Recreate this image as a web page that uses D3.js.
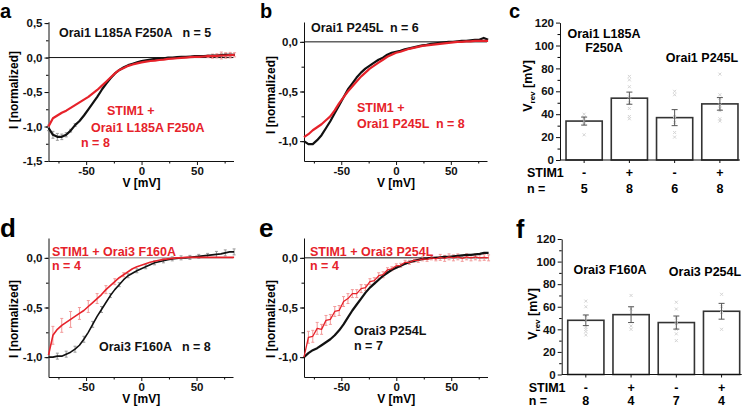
<!DOCTYPE html>
<html><head><meta charset="utf-8">
<script src="https://cdn.jsdelivr.net/npm/d3@7"></script>
<style>
body{margin:0;background:#fff}
svg{display:block}
text{font-family:"Liberation Sans",Arial,sans-serif;font-weight:bold}
.letter{font-family:"Liberation Sans",Arial,sans-serif;font-weight:700}
</style>
</head><body>
<svg id="fig" width="745" height="408"></svg>
<script>
// ---------- DATA ----------
const voltage = [-84,-80,-76,-72,-68,-64,-60,-56,-52,-48,-44,-40,-36,-32,-28,-24,-20,-16,-12,-8,-4,0,4,8,12,16,20,24,28,32,36,40,44,48,52,56,60,64,68,72,76,80,84];

// panel a
const aOrai = [-1.02,-1.12,-1.15,-1.15,-1.12,-1.06,-0.98,-0.92,-0.84,-0.75,-0.66,-0.57,-0.47,-0.38,-0.30,-0.23,-0.18,-0.14,-0.11,-0.09,-0.07,-0.05,-0.04,-0.03,-0.02,-0.015,-0.01,0.0,0.0,0.005,0.01,0.01,0.015,0.02,0.02,0.02,0.025,0.03,0.03,0.035,0.04,0.04,0.04];
const aStim = [-1.0,-0.88,-0.84,-0.80,-0.77,-0.73,-0.69,-0.65,-0.61,-0.57,-0.52,-0.47,-0.41,-0.35,-0.29,-0.23,-0.18,-0.15,-0.12,-0.10,-0.085,-0.07,-0.06,-0.05,-0.045,-0.035,-0.03,-0.02,-0.015,-0.01,-0.005,0.0,0.005,0.01,0.01,0.015,0.02,0.02,0.025,0.03,0.03,0.035,0.04];
const aOraiErr = [0.04,0.05,0.05,0.04,0.03,0.02,0.02,0,0,0,0,0,0,0,0,0,0,0,0,0,0,0,0,0,0,0,0,0,0,0,0,0,0,0,0,0,0,0,0,0.02,0.02,0.02,0];
const aStimErr = [0,0,0,0,0,0,0,0,0,0,0,0,0,0,0,0,0,0,0,0,0,0,0,0,0,0,0,0,0,0,0,0,0,0,0,0,0.02,0.03,0.03,0.05,0.04,0.04,0.03];

// panel b
const bOrai = [-1.0,-1.03,-1.03,-0.99,-0.94,-0.87,-0.80,-0.72,-0.64,-0.56,-0.48,-0.42,-0.36,-0.31,-0.27,-0.24,-0.21,-0.18,-0.16,-0.13,-0.11,-0.10,-0.09,-0.075,-0.065,-0.055,-0.045,-0.035,-0.03,-0.02,-0.015,-0.01,-0.005,0.0,0.0,0.005,0.01,0.01,0.015,0.02,0.02,0.04,0.02];
const bStim = [-0.96,-0.93,-0.89,-0.86,-0.83,-0.79,-0.75,-0.69,-0.62,-0.56,-0.50,-0.45,-0.40,-0.35,-0.31,-0.27,-0.24,-0.21,-0.18,-0.15,-0.13,-0.11,-0.10,-0.085,-0.07,-0.06,-0.05,-0.04,-0.035,-0.03,-0.025,-0.02,-0.015,-0.01,-0.005,0.0,0.0,0.005,0.005,0.01,0.01,0.01,0.01];

// panel d
const dOrai = [-1.0,-1.0,-0.99,-0.99,-0.97,-0.95,-0.92,-0.88,-0.82,-0.75,-0.67,-0.59,-0.52,-0.45,-0.38,-0.32,-0.27,-0.22,-0.18,-0.155,-0.13,-0.11,-0.09,-0.07,-0.05,-0.04,-0.03,-0.02,-0.01,-0.005,0.0,0.0,0.005,0.01,0.015,0.02,0.025,0.03,0.035,0.04,0.05,0.06,0.06];
const dStim = [-0.98,-0.78,-0.72,-0.68,-0.65,-0.62,-0.59,-0.56,-0.53,-0.49,-0.45,-0.41,-0.37,-0.32,-0.28,-0.24,-0.20,-0.17,-0.14,-0.11,-0.09,-0.075,-0.06,-0.045,-0.035,-0.025,-0.015,-0.01,-0.005,0.0,0.0,0.005,0.005,0.005,0.005,0.005,0.005,0.005,0.005,0.005,0.005,0.005,0.005];
const dOraiErr = [0,0,0.03,0,0.03,0,0.03,0,0.03,0,0.03,0,0.03,0,0.02,0,0.02,0,0.02,0,0.02,0,0.02,0,0.02,0,0.02,0,0.02,0,0.02,0,0.02,0,0.02,0,0.02,0,0.03,0,0.03,0,0.03];
const dStimErr = [0,0.09,0,0.07,0,0.08,0,0.06,0,0.06,0,0.05,0,0.04,0,0.03,0,0.02,0,0,0,0,0,0,0,0,0,0,0,0,0,0,0,0,0,0,0,0,0,0,0,0,0];

// panel e
const eOrai = [-1.0,-0.96,-0.93,-0.91,-0.88,-0.85,-0.82,-0.78,-0.73,-0.67,-0.60,-0.53,-0.47,-0.41,-0.35,-0.30,-0.26,-0.22,-0.18,-0.15,-0.12,-0.10,-0.08,-0.06,-0.045,-0.03,-0.02,-0.01,-0.005,0.0,0.0,0.005,0.01,0.01,0.015,0.02,0.025,0.03,0.03,0.035,0.04,0.05,0.05];
const eStim = [-1.0,-0.80,-0.79,-0.71,-0.72,-0.63,-0.62,-0.54,-0.53,-0.44,-0.41,-0.36,-0.36,-0.31,-0.30,-0.24,-0.23,-0.18,-0.17,-0.12,-0.11,-0.08,-0.075,-0.045,-0.045,-0.025,-0.025,-0.01,-0.015,0.0,-0.01,0.005,-0.005,0.01,0.0,0.01,-0.005,0.01,0.0,0.01,0.0,0.005,0.0];
const eStimErr = [0,0.06,0.06,0.06,0.05,0.05,0.05,0.05,0.05,0.05,0.05,0.04,0.04,0.04,0.03,0.03,0.03,0.03,0.03,0.02,0.02,0.02,0.02,0.02,0.02,0.02,0.02,0.02,0.02,0.02,0.02,0.03,0.03,0.03,0.03,0.03,0.03,0.03,0.03,0.03,0.03,0.03,0.03];

// bar panels
const stimSigns = ["-","+","-","+"];
const cMeans = [34, 54, 37, 49];
const cErr = [3.5, 5.3, 7, 5.5];
const cN = ["5","8","6","8"];
const cPoints = [[40,37,34,31,22],[73,70,64,55,50,45,38,36],[60,57,38,33,24,20],[75,57,54,48,45,43,36,34]];
const fMeans = [48, 53, 46, 56];
const fErr = [4.7, 7, 5.8, 7];
const fN = ["8","4","7","4"];
const fPoints = [[65,60,52,48,42,40,38,35],[70,58,43,40],[64,58,50,45,40,36,30],[71,60,55,40]];
const barYTicks = [0,20,40,60,80,100,120];
const ivXTicks = [-50,0,50];

// ---------- DRAW ----------
const RED = "#e6222a", RED_ERR = "#f29a9a", BLK = "#111", BLK_ERR = "#9a9a9a";
const svg = d3.select("#fig");
const fmtI = v => (v < 0 ? "-" : "") + Math.abs(v).toFixed(1).replace(".", ",");
const fmtV = v => (v < 0 ? "-" : "") + Math.abs(v);

function letter(t, x, y, size) {
  svg.append("text").attr("class","letter").attr("x",x).attr("y",y).attr("font-size",size).text(t);
}

function ivPanel(cfg) {
  const g = svg.append("g");
  const x = d3.scaleLinear().domain([-84, 83]).range(cfg.xr);
  const y = d3.scaleLinear().domain(cfg.yd).range(cfg.yr);
  const yMinor = d3.range(cfg.minor[0], cfg.minor[1] + 1e-9, 0.25);
  g.append("g").attr("transform",`translate(${cfg.xr[0]},0)`)
    .call(d3.axisLeft(y).tickValues(yMinor).tickSize(2.5).tickFormat(""))
    .call(a => a.select(".domain").remove());
  g.append("g").attr("transform",`translate(0,${cfg.yr[0]})`)
    .call(d3.axisBottom(x).tickValues([-75,-25,25,75]).tickSize(2.5).tickFormat(""))
    .call(a => a.select(".domain").remove());
  const ya = g.append("g").attr("transform",`translate(${cfg.xr[0]},0)`)
    .call(d3.axisLeft(y).tickValues(cfg.yt).tickSize(4).tickSizeOuter(0).tickPadding(2).tickFormat(fmtI));
  const xa = g.append("g").attr("transform",`translate(0,${cfg.yr[0]})`)
    .call(d3.axisBottom(x).tickValues(ivXTicks).tickSize(4).tickSizeOuter(0).tickPadding(2).tickFormat(fmtV));
  [ya, xa].forEach(a => { a.selectAll("text").attr("font-size",11.5).attr("fill","#111"); a.selectAll("line,path").attr("stroke","#111"); });
  g.append("line").attr("x1",cfg.xr[0]).attr("x2",cfg.xr[1]).attr("y1",y(0)).attr("y2",y(0))
    .attr("stroke",cfg.zeroColor||"#111").attr("stroke-width",1);
  cfg.series.forEach(s => {
    if (s.err) {
      const eg = g.append("g").attr("stroke", s.errColor).attr("stroke-width",1);
      voltage.forEach((v,i) => {
        const e = s.err[i]; if (!e) return;
        const cx = x(v);
        eg.append("line").attr("x1",cx).attr("x2",cx).attr("y1",y(s.values[i]-e)).attr("y2",y(s.values[i]+e));
        eg.append("line").attr("x1",cx-1.5).attr("x2",cx+1.5).attr("y1",y(s.values[i]-e)).attr("y2",y(s.values[i]-e));
        eg.append("line").attr("x1",cx-1.5).attr("x2",cx+1.5).attr("y1",y(s.values[i]+e)).attr("y2",y(s.values[i]+e));
      });
    }
  });
  cfg.series.forEach(s => {
    g.append("path").datum(voltage.map((v,i)=>[v,s.values[i]]))
      .attr("fill","none").attr("stroke",s.color).attr("stroke-width",s.w||2.2)
      .attr("stroke-linejoin","round")
      .attr("d", d3.line().x(d=>x(d[0])).y(d=>y(d[1])));
  });
  g.append("text").attr("x", x(0)).attr("y", cfg.xlabY).attr("text-anchor","middle").attr("font-size",12).text("V [mV]");
  g.append("text").attr("transform",`translate(${cfg.ylabX},${cfg.ylabY}) rotate(-90)`).attr("text-anchor","middle").attr("font-size",12).text("I [normalized]");
  cfg.notes.forEach(n => {
    g.append("text").attr("x",n[0]).attr("y",n[1]).attr("fill",n[3]).attr("font-size",12.5).attr("xml:space","preserve").text(n[2]);
  });
}

function barPanel(cfg) {
  const g = svg.append("g");
  const x = d3.scaleBand().domain([0,1,2,3]).range([cfg.ax+1.5, cfg.ax+182.5]).paddingInner(0.2).paddingOuter(0.1);
  const y = d3.scaleLinear().domain([0,120]).range(cfg.yr);
  g.append("g").attr("transform",`translate(${cfg.ax},0)`)
    .call(d3.axisLeft(y).tickValues(d3.range(10,120,20)).tickSize(2.5).tickFormat(""))
    .call(a => a.select(".domain").remove());
  const ya = g.append("g").attr("transform",`translate(${cfg.ax},0)`)
    .call(d3.axisLeft(y).tickValues(barYTicks).tickSize(4).tickSizeOuter(0).tickPadding(2));
  ya.selectAll("text").attr("font-size",11.5).attr("fill","#111");
  ya.selectAll("line,path").attr("stroke","#111");
  cfg.means.forEach((m,i) => {
    g.append("rect").attr("x",x(i)).attr("width",x.bandwidth()).attr("y",y(m)).attr("height",y(0)-y(m))
      .attr("fill","#fff").attr("stroke","#333").attr("stroke-width",1.6);
  });
  cfg.points.forEach((arr,i) => {
    arr.forEach(p => {
      g.append("path").attr("d", d3.symbol(d3.symbolX, 7)()).attr("transform",`translate(${x(i)+x.bandwidth()/2},${y(p)})`)
        .attr("fill","none").attr("stroke","#d4d4d4").attr("stroke-width",1);
    });
  });
  cfg.means.forEach((m,i) => {
    const cx = x(i)+x.bandwidth()/2, e = cfg.err[i];
    g.append("line").attr("x1",cx).attr("x2",cx).attr("y1",y(m-e)).attr("y2",y(m+e)).attr("stroke","#555");
    [m-e, m+e].forEach(v => g.append("line").attr("x1",cx-3).attr("x2",cx+3).attr("y1",y(v)).attr("y2",y(v)).attr("stroke","#555"));
  });
  g.append("line").attr("x1",cfg.ax).attr("x2",cfg.ax+180).attr("y1",y(0)).attr("y2",y(0)).attr("stroke","#111").attr("stroke-width",1.2);
  cfg.means.forEach((m,i) => {
    const cx = x(i)+x.bandwidth()/2;
    g.append("line").attr("x1",cx).attr("x2",cx).attr("y1",y(0)).attr("y2",y(0)+3).attr("stroke","#111");
    g.append("text").attr("x",cx).attr("y",cfg.stimY).attr("text-anchor","middle").attr("font-size",12.5).text(stimSigns[i]);
    g.append("text").attr("x",cx).attr("y",cfg.nY).attr("text-anchor","middle").attr("font-size",12.5).text(cfg.n[i]);
  });
  g.append("text").attr("x",cfg.ax-33).attr("y",cfg.stimY).attr("font-size",12.5).text("STIM1");
  g.append("text").attr("x",cfg.ax-33).attr("y",cfg.nY).attr("font-size",12.5).text("n =");
  const t = g.append("text").attr("transform",`translate(${cfg.ylabX},${cfg.ylabY}) rotate(-90)`).attr("text-anchor","middle").attr("font-size",12.5);
  t.append("tspan").text("V");
  t.append("tspan").attr("font-size",8).attr("dy",3).text("rev");
  t.append("tspan").attr("dy",-3).text(" [mV]");
  cfg.notes.forEach(n => {
    g.append("text").attr("x",n[0]).attr("y",n[1]).attr("text-anchor","middle").attr("font-size",12.5).text(n[2]);
  });
}

ivPanel({xr:[48.5,233.5], yd:[-1.5,0.52], yr:[161,21.7], yt:[-1.5,-1,-0.5,0,0.5], minor:[-1.5,0.5],
  xlabY:187, ylabX:18, ylabY:90,
  series:[{values:aOrai,color:BLK,err:aOraiErr,errColor:BLK_ERR},{values:aStim,color:RED,err:aStimErr,errColor:RED_ERR}],
  notes:[[59,37,"Orai1 L185A F250A   n = 5",BLK],[107,115,"STIM1 +",RED],[91,131.5,"Orai1 L185A F250A",RED],[81,147,"n = 8",RED]]});

ivPanel({xr:[304,487], yd:[-1.2,0.2], yr:[161,22], yt:[-1,-0.5,0], minor:[-1,0],
  xlabY:187, ylabX:275, ylabY:95,
  series:[{values:bOrai,color:BLK},{values:bStim,color:RED}],
  notes:[[311,32,"Orai1 P245L  n = 6",BLK],[357,111.5,"STIM1 +",RED],[357,127.5,"Orai1 P245L  n = 8",RED]]});

ivPanel({xr:[48.5,233], yd:[-1.2,0.2], yr:[377,238], yt:[-1,-0.5,0], minor:[-1,0], zeroColor:"#888",
  xlabY:403, ylabX:18, ylabY:319,
  series:[{values:dOrai,color:BLK,w:1.6,err:dOraiErr,errColor:BLK_ERR},{values:dStim,color:RED,w:1.6,err:dStimErr,errColor:RED_ERR}],
  notes:[[52,256,"STIM1 + Orai3 F160A",RED],[52,270,"n = 4",RED],[99,351,"Orai3 F160A   n = 8",BLK]]});

ivPanel({xr:[304,487.5], yd:[-1.2,0.2], yr:[377,238], yt:[-1,-0.5,0], minor:[-1,0],
  xlabY:403, ylabX:275, ylabY:319,
  series:[{values:eOrai,color:BLK},{values:eStim,color:RED,w:1.3,err:eStimErr,errColor:RED_ERR}],
  notes:[[310,256,"STIM1 + Orai3 P254L",RED],[310,270,"n = 4",RED],[354,335,"Orai3 P254L",BLK],[354,349.5,"n = 7",BLK]]});

barPanel({ax:560, yr:[160,22.6], means:cMeans, err:cErr, n:cN, points:cPoints, stimY:176.5, nY:193,
  ylabX:532, ylabY:86,
  notes:[[604,38,"Orai1 L185A"],[604,52,"F250A"],[702,61.5,"Orai1 P245L"]]});

barPanel({ax:561.7, yr:[374.5,239], means:fMeans, err:fErr, n:fN, points:fPoints, stimY:391.5, nY:405,
  ylabX:537, ylabY:314,
  notes:[[610,274,"Orai3 F160A"],[705,276,"Orai3 P254L"]]});

letter("a", 0, 18, 20);
letter("b", 260, 18, 20);
letter("c", 509, 18, 20);
letter("d", 0, 237, 26);
letter("e", 259, 237, 26);
letter("f", 516, 238, 25);
</script>
</body></html>
